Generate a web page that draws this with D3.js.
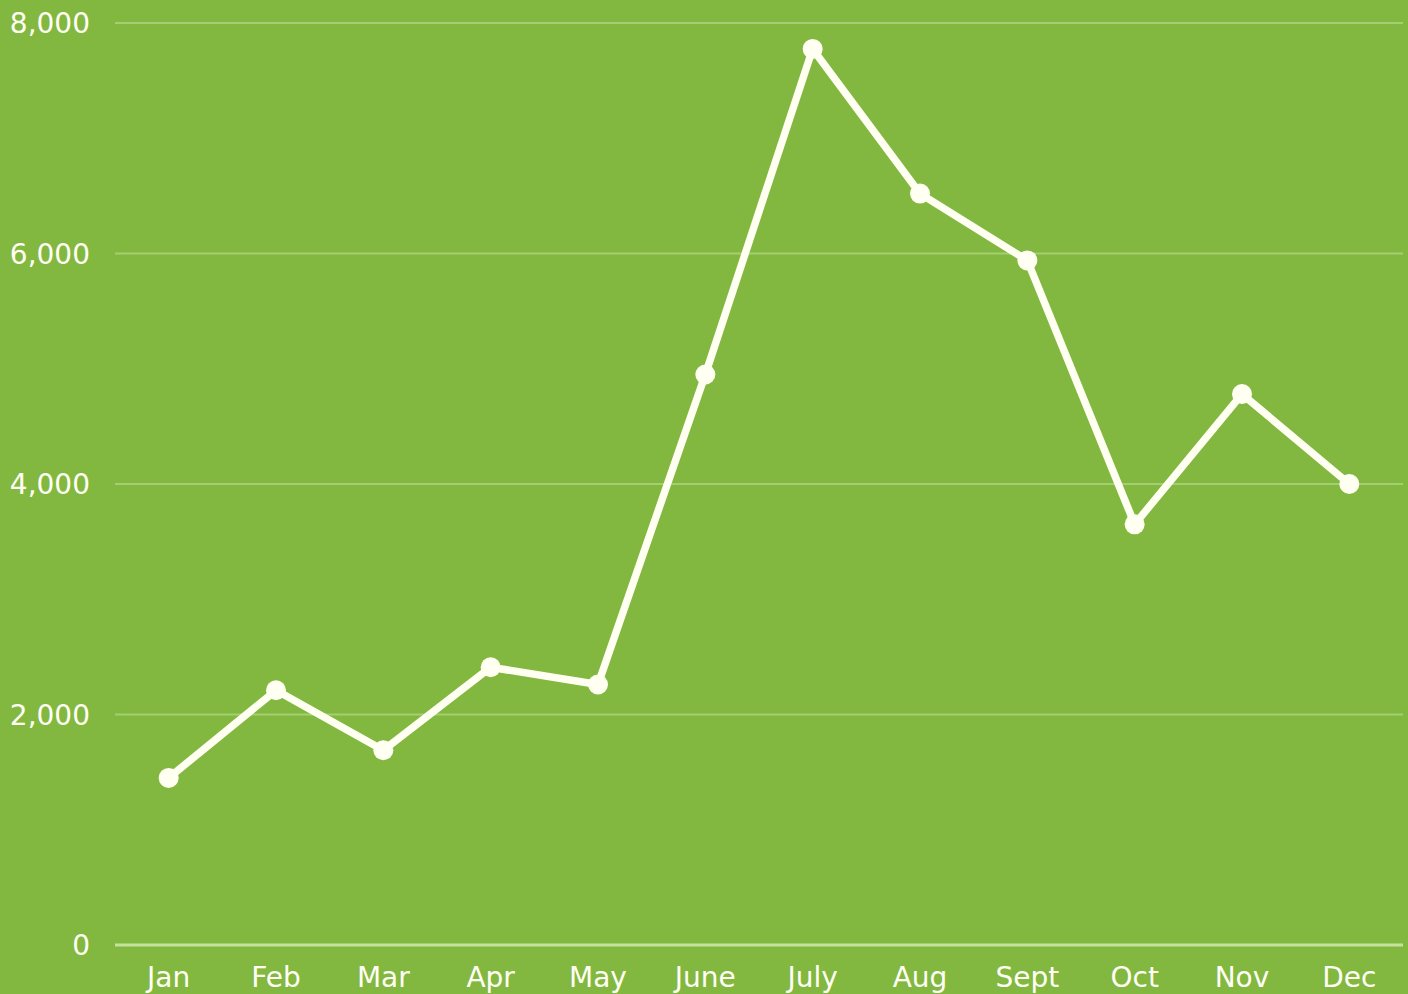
<!DOCTYPE html>
<html>
<head>
<meta charset="utf-8">
<script src="https://cdnjs.cloudflare.com/ajax/libs/d3/7.8.5/d3.min.js"></script>
<style>
  html, body { margin: 0; padding: 0; background: #83b840; }
  svg { display: block; }
</style>
</head>
<body>
<div id="chart"></div>
<script>
// chart data
const months = ["Jan", "Feb", "Mar", "Apr", "May", "June", "July", "Aug", "Sept", "Oct", "Nov", "Dec"];
const values = [1450, 2210, 1690, 2410, 2260, 4950, 7775, 6520, 5940, 3650, 4780, 4000];
const yTicks = [0, 2000, 4000, 6000, 8000];

const width = 1408, height = 994;
const margin = { top: 23, right: 5, bottom: 49, left: 115 };

const svg = d3.select("#chart")
    .append("svg")
    .attr("width", width)
    .attr("height", height)
    .style("background-color", "#83b840");

const x = d3.scalePoint()
    .domain(months)
    .range([margin.left, width - margin.right])
    .padding(0.5);

const y = d3.scaleLinear()
    .domain([0, 8000])
    .range([height - margin.bottom, margin.top]);

const font = "Verdana, 'DejaVu Sans', sans-serif";

// gridlines
svg.append("g")
    .selectAll("line")
    .data(yTicks)
    .enter()
    .append("line")
    .attr("x1", margin.left)
    .attr("x2", width - margin.right)
    .attr("y1", d => y(d))
    .attr("y2", d => y(d))
    .attr("stroke", d => d === 0 ? "#c6e19f" : "#a5cd72")
    .attr("stroke-width", d => d === 0 ? 3 : 2);

// y axis labels
svg.append("g")
    .selectAll("text")
    .data(yTicks)
    .enter()
    .append("text")
    .attr("x", 90)
    .attr("y", d => y(d))
    .attr("dy", "0.36em")
    .attr("text-anchor", "end")
    .attr("fill", "#fffff5")
    .style("font-family", font)
    .style("font-size", "28px")
    .text(d => d3.format(",")(d));

// x axis labels
svg.append("g")
    .selectAll("text")
    .data(months)
    .enter()
    .append("text")
    .attr("x", d => x(d))
    .attr("y", 977)
    .attr("dy", "0.36em")
    .attr("text-anchor", "middle")
    .attr("fill", "#fffff5")
    .style("font-family", font)
    .style("font-size", "28px")
    .text(d => d);

// line
const line = d3.line()
    .x((d, i) => x(months[i]))
    .y(d => y(d));

svg.append("path")
    .datum(values)
    .attr("fill", "none")
    .attr("stroke", "#fffff2")
    .attr("stroke-width", 7.5)
    .attr("stroke-linejoin", "round")
    .attr("d", line);

// points
svg.append("g")
    .selectAll("circle")
    .data(values)
    .enter()
    .append("circle")
    .attr("cx", (d, i) => x(months[i]))
    .attr("cy", d => y(d))
    .attr("r", 10)
    .attr("fill", "#fffff2");
</script>
</body>
</html>
